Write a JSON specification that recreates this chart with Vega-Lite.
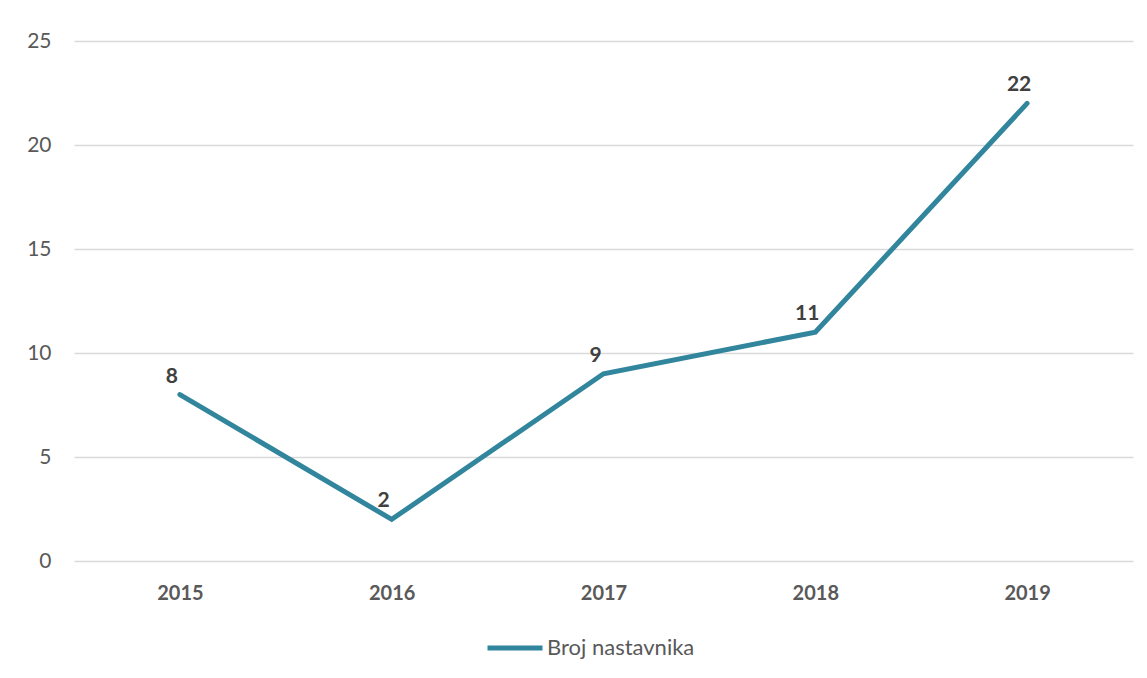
{
  "$schema": "https://vega.github.io/schema/vega-lite/v6.json",
  "autosize": "none",
  "width": 1059,
  "height": 520,
  "padding": {"left": 74, "top": 41, "right": 14, "bottom": 117},
  "background": "white",
  "config": {
    "view": {"stroke": null},
    "font": "Lato"
  },
  "data": {
    "values": [
      {"godina": "2015", "broj": 8, "serija": "Broj nastavnika"},
      {"godina": "2016", "broj": 2, "serija": "Broj nastavnika"},
      {"godina": "2017", "broj": 9, "serija": "Broj nastavnika"},
      {"godina": "2018", "broj": 11, "serija": "Broj nastavnika"},
      {"godina": "2019", "broj": 22, "serija": "Broj nastavnika"}
    ]
  },
  "encoding": {
    "x": {
      "field": "godina",
      "type": "ordinal",
      "scale": {"type": "point", "padding": 0.5},
      "axis": {
        "title": null,
        "labelAngle": 0,
        "domain": false,
        "ticks": false,
        "grid": false,
        "labelFont": "Lato",
        "labelFontSize": 20,
        "labelFontWeight": "bold",
        "labelColor": "#595959",
        "labelPadding": 22
      }
    },
    "y": {
      "field": "broj",
      "type": "quantitative",
      "scale": {"domain": [0, 25], "nice": false},
      "axis": {
        "title": null,
        "values": [0, 5, 10, 15, 20, 25],
        "domain": false,
        "ticks": false,
        "gridColor": "#d9d9d9",
        "gridWidth": 1.3,
        "labelFont": "Lato",
        "labelFontSize": 21,
        "labelColor": "#595959",
        "labelPadding": 23
      }
    }
  },
  "layer": [
    {
      "mark": {"type": "line", "strokeWidth": 5, "strokeCap": "round", "strokeJoin": "miter"},
      "encoding": {
        "color": {
          "field": "serija",
          "type": "nominal",
          "scale": {"range": ["#31859C"]},
          "legend": {
            "title": null,
            "orient": "none",
            "legendX": 411,
            "legendY": 577,
            "padding": 0,
            "symbolType": "stroke",
            "symbolSize": 3025,
            "symbolStrokeWidth": 5,
            "labelFont": "Lato",
            "labelFontSize": 22,
            "labelColor": "#595959",
            "labelOffset": 2
          }
        }
      }
    },
    {
      "mark": {
        "type": "text",
        "font": "Lato",
        "fontSize": 21,
        "fontWeight": "bold",
        "color": "#404040",
        "align": "center",
        "baseline": "middle",
        "dx": -8,
        "dy": -18
      },
      "encoding": {
        "text": {"field": "broj", "type": "quantitative"}
      }
    }
  ]
}
